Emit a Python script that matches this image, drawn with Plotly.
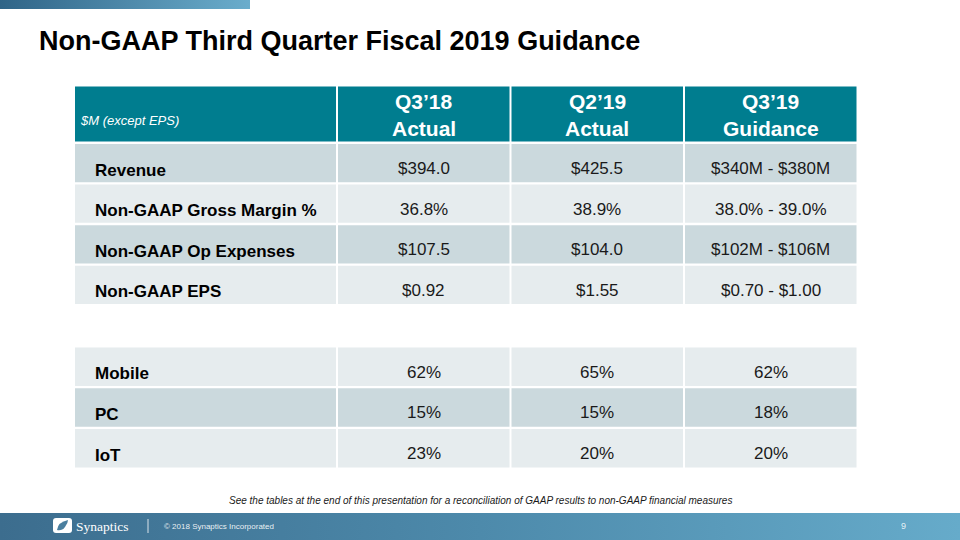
import plotly.graph_objects as go

# ---------------- data ----------------
title = "Non-GAAP Third Quarter Fiscal 2019 Guidance"
unit_note = "$M (except EPS)"
col_period = ["Q3’18", "Q2’19", "Q3’19"]
col_kind = ["Actual", "Actual", "Guidance"]

fin_rows = ["Revenue", "Non-GAAP Gross Margin %", "Non-GAAP Op Expenses", "Non-GAAP EPS"]
fin_q3_18 = ["$394.0", "36.8%", "$107.5", "$0.92"]
fin_q2_19 = ["$425.5", "38.9%", "$104.0", "$1.55"]
fin_q3_19 = ["$340M - $380M", "38.0% - 39.0%", "$102M - $106M", "$0.70 - $1.00"]

mix_rows = ["Mobile", "PC", "IoT"]
mix_q3_18 = ["62%", "15%", "23%"]
mix_q2_19 = ["65%", "15%", "20%"]
mix_q3_19 = ["62%", "18%", "20%"]

footnote = "See the tables at the end of this presentation for a reconciliation of GAAP results to non-GAAP financial measures"
copyright_text = "© 2018 Synaptics Incorporated"
page_no = "9"

# ---------------- style / layout ----------------
W, H = 960, 540
TEAL = "#007D8F"
DARK = "#CBD9DD"
LIGHT = "#E6ECEE"
SANS = "Liberation Sans, Arial, sans-serif"

col_l = [75, 338, 511.5, 685]
col_r = [336, 509.5, 683, 856.5]
hdr_top, hdr_bot = 86.5, 141.5
fin_top0, fin_pitch, fin_h = 144, 40.6, 38.2
mix_top0, mix_pitch, mix_h = 347.5, 40.8, 38.4

fig = go.Figure()
shapes = []
ann = []

# top gradient bar
fig.add_trace(go.Scatter(x=[0, 250, 250, 0, 0], y=[0, 0, 9, 9, 0], mode="lines",
                         fill="toself", line=dict(width=0),
                         fillgradient=dict(type="horizontal",
                                           colorscale=[[0, "#2f6487"], [1, "#6badcc"]]),
                         hoverinfo="skip", showlegend=False))
# footer gradient bar
fig.add_trace(go.Scatter(x=[0, W, W, 0, 0], y=[513, 513, H, H, 513], mode="lines",
                         fill="toself", line=dict(width=0),
                         fillgradient=dict(type="horizontal",
                                           colorscale=[[0, "#3c6d8e"], [0.5, "#4d8aab"], [1, "#66abca"]]),
                         hoverinfo="skip", showlegend=False))

# title
ann.append(dict(x=37, y=41, text="<b>" + title + "</b>", showarrow=False, xanchor="left",
                yanchor="middle", font=dict(family=SANS, size=27, color="#000000")))

# header
for i in range(4):
    shapes.append(dict(type="rect", x0=col_l[i], x1=col_r[i], y0=hdr_top, y1=hdr_bot,
                       fillcolor=TEAL, line=dict(width=0), layer="below"))
ann.append(dict(x=78, y=120, text="<i>" + unit_note + "</i>", showarrow=False, xanchor="left",
                yanchor="middle", font=dict(family=SANS, size=13, color="white")))
for i in range(3):
    cx = (col_l[i + 1] + col_r[i + 1]) / 2
    ann.append(dict(x=cx, y=101, text="<b>" + col_period[i] + "</b>", showarrow=False,
                    xanchor="center", yanchor="middle",
                    font=dict(family=SANS, size=21, color="white")))
    ann.append(dict(x=cx, y=128, text="<b>" + col_kind[i] + "</b>", showarrow=False,
                    xanchor="center", yanchor="middle",
                    font=dict(family=SANS, size=21, color="white")))


def body(rows, cols, top0, pitch, h, first_dark):
    for r, label in enumerate(rows):
        y0 = top0 + r * pitch
        y1 = y0 + h
        dark = (r % 2 == 0) == first_dark
        fc = DARK if dark else LIGHT
        for c in range(4):
            shapes.append(dict(type="rect", x0=col_l[c], x1=col_r[c], y0=y0, y1=y1,
                               fillcolor=fc, line=dict(width=0), layer="below"))
        ann.append(dict(x=93, y=y0 + 26, text="<b>" + label + "</b>", showarrow=False,
                        xanchor="left", yanchor="middle",
                        font=dict(family=SANS, size=17, color="#000000")))
        for c, vals in enumerate(cols):
            cx = (col_l[c + 1] + col_r[c + 1]) / 2
            ann.append(dict(x=cx, y=y0 + 24.5, text=vals[r], showarrow=False,
                            xanchor="center", yanchor="middle",
                            font=dict(family=SANS, size=17, color="#1a1a1a")))


body(fin_rows, [fin_q3_18, fin_q2_19, fin_q3_19], fin_top0, fin_pitch, fin_h, True)
body(mix_rows, [mix_q3_18, mix_q2_19, mix_q3_19], mix_top0, mix_pitch, mix_h, False)

# footnote
ann.append(dict(x=480, y=500, text="<i>" + footnote + "</i>", showarrow=False,
                xanchor="center", yanchor="middle",
                font=dict(family=SANS, size=10, color="#1a1a1a")))

# footer: logo
shapes.append(dict(type="path",
                   path="M 56 518 L 69 518 Q 72 518 72 521 L 72 530 Q 72 533 69 533 L 56 533 Q 53 533 53 530 L 53 521 Q 53 518 56 518 Z",
                   fillcolor="white", line=dict(width=0)))
shapes.append(dict(type="path",
                   path="M 68 520 Q 58 522 57 530 Q 62 531 65 527 Q 68 523 68 520 Z",
                   fillcolor="#4a7f9f", line=dict(width=0)))
ann.append(dict(x=74, y=526, text="Synaptics", showarrow=False, xanchor="left",
                yanchor="middle", font=dict(family="Liberation Serif, DejaVu Serif, serif",
                                            size=13.5, color="white")))
shapes.append(dict(type="line", x0=148, x1=148, y0=519, y1=533,
                   line=dict(color="rgba(255,255,255,0.8)", width=1)))
ann.append(dict(x=162, y=526, text=copyright_text, showarrow=False, xanchor="left",
                yanchor="middle", font=dict(family=SANS, size=8, color="rgba(255,255,255,0.9)")))
ann.append(dict(x=903, y=526, text=page_no, showarrow=False, xanchor="center",
                yanchor="middle", font=dict(family=SANS, size=9, color="rgba(255,255,255,0.85)")))

for a in ann:
    a.setdefault("xref", "x")
    a.setdefault("yref", "y")
for s in shapes:
    s.setdefault("xref", "x")
    s.setdefault("yref", "y")

fig.update_layout(width=W, height=H, margin=dict(l=0, r=0, t=0, b=0),
                  paper_bgcolor="white", plot_bgcolor="white",
                  xaxis=dict(range=[0, W], visible=False, fixedrange=True),
                  yaxis=dict(range=[H, 0], visible=False, fixedrange=True),
                  shapes=shapes, annotations=ann, showlegend=False)

fig.write_html("out.html", config={"displayModeBar": False},
               post_script="document.body.style.margin='0px';document.body.style.overflow='hidden';")
